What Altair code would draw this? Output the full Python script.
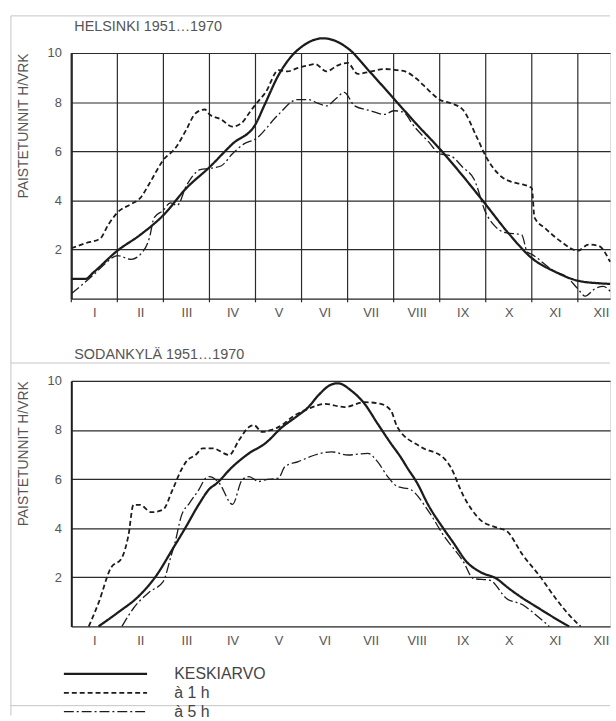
import altair as alt
import pandas as pd

FONT = "Liberation Sans"

ROMAN = ["I", "II", "III", "IV", "V", "VI", "VII", "VIII", "IX", "X", "XI", "XII"]
SERIES = ["KESKIARVO", "à 1 h", "à 5 h"]
TITLE_TOP = "HELSINKI 1951…1970"
TITLE_BOTTOM = "SODANKYLÄ 1951…1970"
Y_TITLE = "PAISTETUNNIT H/VRK"
Y_TICKS = [0, 2, 4, 6, 8, 10]
MONTH_EDGES = [0, 1, 2, 3, 4, 5, 6, 7, 8, 9, 10, 11]
MONTH_CENTERS = [0.5, 1.5, 2.5, 3.5, 4.5, 5.5, 6.5, 7.5, 8.5, 9.5, 10.5, 11.5]

# ---- Helsinki (month position, hours/day) ----
H_MEAN_M = [0, 0.3, 0.5, 1.0, 1.5, 2.0, 2.5, 3.0, 3.5, 4.0, 4.2, 4.5, 4.75, 5.0, 5.47,
            6.0, 6.5, 7.0, 7.5, 8.0, 8.5, 8.93, 9.5, 10.0, 10.5, 11.0, 11.5, 11.7]
H_MEAN_V = [0.8, 0.8, 1.1, 1.95, 2.6, 3.4, 4.5, 5.35, 6.3, 7.1, 7.9, 9.1, 9.8, 10.25, 10.6,
            10.2, 9.2, 8.15, 7.1, 6.1, 5.0, 4.0, 2.65, 1.65, 1.1, 0.73, 0.62, 0.6]

H_1H_M = [0, 0.3, 0.63, 0.8, 1.0, 1.3, 1.5, 1.7, 2.0, 2.27, 2.49, 2.7, 2.9, 3.0, 3.25,
          3.5, 3.7, 3.86, 4.0, 4.22, 4.5, 4.69, 4.93, 5.15, 5.3, 5.54, 5.79, 6.0, 6.22, 6.51,
          6.8, 7.08, 7.25, 7.5, 7.75, 8.0, 8.25, 8.5, 8.8, 9.0, 9.35, 9.57, 9.8, 10.0, 10.06,
          10.3, 10.65, 11.0, 11.23, 11.45, 11.7]
H_1H_V = [2.05, 2.25, 2.45, 3.0, 3.5, 3.85, 4.1, 4.7, 5.65, 6.15, 6.85, 7.55, 7.7, 7.5, 7.3,
          7.0, 7.15, 7.55, 7.9, 8.4, 9.3, 9.25, 9.4, 9.5, 9.55, 9.25, 9.5, 9.6, 9.15, 9.25,
          9.35, 9.3, 9.25, 8.95, 8.5, 8.1, 7.95, 7.7, 6.6, 5.8, 4.95, 4.75, 4.65, 4.5, 3.3,
          2.85, 2.3, 1.95, 2.2, 2.15, 1.5]

H_5H_M = [0, 0.5, 0.75, 1.0, 1.3, 1.5, 1.7, 1.8, 2.0, 2.15, 2.3, 2.5, 2.8, 3.0, 3.25,
          3.5, 3.75, 4.0, 4.5, 4.9, 5.15, 5.36, 5.54, 5.75, 5.93, 6.15, 6.5, 6.8, 7.0, 7.2,
          7.45, 7.75, 8.0, 8.25, 8.5, 8.75, 9.0, 9.2, 9.4, 9.78, 9.9, 10.0, 10.5, 10.75, 11.0,
          11.16, 11.37, 11.55, 11.7]
H_5H_V = [0.2, 1.0, 1.45, 1.75, 1.6, 1.8, 2.5, 3.3, 3.6, 3.9, 3.8, 4.6, 5.25, 5.3, 5.4,
          5.9, 6.3, 6.5, 7.5, 8.1, 8.1, 7.95, 7.85, 8.15, 8.4, 7.85, 7.65, 7.5, 7.65, 7.6,
          7.0, 6.4, 5.9, 5.8, 5.35, 4.85, 3.5, 2.95, 2.7, 2.6, 1.9, 1.8, 1.1, 0.9, 0.4,
          0.1, 0.4, 0.5, 0.3]

# ---- Sodankylä ----
S_MEAN_M = [0.59, 1.0, 1.49, 1.85, 2.2, 2.46, 2.78, 3.0, 3.14, 3.5, 3.86, 4.21, 4.57, 4.93, 5.15,
            5.36, 5.65, 5.79, 6.08, 6.37, 6.65, 6.94, 7.15, 7.3, 7.51, 7.75, 8.09, 8.3, 8.59, 8.9,
            9.23, 9.5, 9.81, 10.1, 10.4, 10.81]
S_MEAN_V = [0, 0.55, 1.28, 2.08, 3.15, 3.96, 5.0, 5.6, 5.8, 6.5, 7.05, 7.45, 8.1, 8.6, 8.93,
            9.4, 9.85, 9.9, 9.6, 9.06, 8.26, 7.45, 6.9, 6.45, 5.84, 4.95, 3.96, 3.4, 2.62, 2.2,
            1.95, 1.55, 1.14, 0.8, 0.45, 0]

S_1H_M = [0.38, 0.6, 0.85, 1.1, 1.24, 1.35, 1.49, 1.74, 1.99, 2.2, 2.39, 2.49, 2.71, 2.85, 3.07,
          3.43, 3.64, 3.86, 3.97, 4.14, 4.33, 4.57, 4.79, 5.15, 5.5, 5.94, 6.37, 6.72, 6.94, 7.08,
          7.58, 8.09, 8.23, 8.52, 8.87, 9.23, 9.45, 9.81, 10.16, 10.52, 10.81, 11.06]
S_1H_V = [0, 1.0, 2.35, 2.8, 3.7, 4.95, 4.95, 4.65, 4.75, 5.57, 6.38, 6.7, 7.0, 7.25, 7.25,
          6.98, 7.58, 8.12, 8.19, 7.92, 7.99, 8.19, 8.52, 8.86, 9.06, 8.93, 9.13, 9.06, 8.79, 8.12,
          7.32, 6.85, 6.51, 5.3, 4.36, 4.03, 3.89, 2.89, 2.08, 1.14, 0.47, 0]

S_5H_M = [1.1, 1.35, 1.7, 1.99, 2.17, 2.25, 2.39, 2.57, 2.78, 2.92, 3.0, 3.21, 3.5, 3.71, 3.86,
          4.07, 4.21, 4.5, 4.64, 4.93, 5.29, 5.65, 6.01, 6.44, 6.65, 6.87, 7.08, 7.37, 7.73, 8.09,
          8.52, 8.73, 9.09, 9.45, 9.81, 10.09, 10.38]
S_5H_V = [0, 0.74, 1.41, 1.81, 2.89, 3.4, 4.5, 5.03, 5.6, 6.04, 6.1, 5.84, 4.97, 5.97, 6.1,
          5.9, 5.97, 6.04, 6.51, 6.71, 6.98, 7.11, 6.98, 7.05, 6.71, 6.1, 5.7, 5.57, 4.77, 3.69,
          2.62, 1.95, 1.88, 1.14, 0.87, 0.47, 0]

# ---- layout ----
W, H = 544, 248
XMAX = 11.7
GAP = 83
INK = "#1c1c1c"
GRID = "#2b2b2b"
TXT = "#555555"
FRAME = "#c4c4c4"


def long_df(parts):
    rows = []
    for name, ms, vs in parts:
        assert len(ms) == len(vs), name
        for i, (m, v) in enumerate(zip(ms, vs)):
            rows.append({"serie": name, "m": m, "v": v, "o": i})
    return pd.DataFrame(rows)


x_scale = alt.Scale(domain=[0, XMAX], nice=False, zero=False)
y_scale = alt.Scale(domain=[0, 10], nice=False, zero=False)
label_expr = "[" + ",".join("'%s'" % r for r in ROMAN) + "][floor(datum.value)]"

x_axis = alt.Axis(values=MONTH_CENTERS, labelExpr=label_expr, title=None, grid=False,
                  ticks=False, domain=False, labelPadding=8, labelFont=FONT,
                  labelFontSize=13, labelColor=TXT, labelFlush=False)
y_axis = alt.Axis(values=Y_TICKS, labelExpr="datum.value == 0 ? '' : datum.label",
                  title=Y_TITLE, titleAnchor="end", titlePadding=17, titleFont=FONT,
                  titleFontSize=14, titleFontWeight="normal", titleColor=TXT,
                  grid=True, gridColor=GRID, gridWidth=1.2, ticks=False, domain=True,
                  domainColor=INK, domainWidth=2, labelPadding=10, labelFont=FONT,
                  labelFontSize=13, labelColor=TXT)

dash_scale = alt.Scale(domain=SERIES, range=[[1, 0], [5, 3], [10, 3, 2, 3]])
width_scale = alt.Scale(domain=SERIES, range=[2.3, 1.3, 1.3])


def make_legend():
    return alt.Legend(title=None, orient="none", legendX=-9, legendY=287,
                      symbolType="stroke", symbolSize=7056, symbolStrokeColor=INK,
                      clipHeight=18, rowPadding=1, labelOffset=26, padding=0,
                      labelFont=FONT, labelFontSize=16, labelColor="#444444",
                      labelBaseline="middle")


def panel(title, parts, legend, vgrid, frame):
    df = long_df(parts)
    leg_dash = make_legend() if legend else None
    leg_width = make_legend() if legend else None
    lines = alt.Chart(df).mark_line(color=INK, interpolate="monotone").encode(
        x=alt.X("m:Q", scale=x_scale, axis=x_axis),
        y=alt.Y("v:Q", scale=y_scale, axis=y_axis),
        strokeDash=alt.StrokeDash("serie:N", scale=dash_scale, legend=leg_dash),
        strokeWidth=alt.StrokeWidth("serie:N", scale=width_scale, legend=leg_width),
        detail="serie:N",
    )
    layers = []
    if vgrid:
        gdf = pd.DataFrame({"m": MONTH_EDGES, "lo": [-0.15] * len(MONTH_EDGES),
                            "hi": [10] * len(MONTH_EDGES)})
        layers.append(alt.Chart(gdf).mark_rule(color=GRID, strokeWidth=1.2).encode(
            x=alt.X("m:Q", scale=x_scale, axis=x_axis),
            y=alt.Y("lo:Q", scale=y_scale, axis=y_axis),
            y2="hi:Q",
        ))
    layers.append(lines)
    tdf = pd.DataFrame({"t": [title]})
    layers.append(alt.Chart(tdf).mark_text(align="left", baseline="middle", font=FONT,
                                           fontSize=14.5, color=TXT).encode(
        x=alt.value(3), y=alt.value(-26.5), text="t:N"))
    if frame:
        one = pd.DataFrame({"k": [0]})
        fr = alt.Chart(one).mark_rule(color=FRAME, strokeWidth=1)
        layers.append(fr.encode(x=alt.value(-61), x2=alt.value(W), y=alt.value(-37.5)))
        layers.append(fr.encode(x=alt.value(-61), y=alt.value(-37.5), y2=alt.value(669)))
        layers.append(fr.encode(x=alt.value(-61), x2=alt.value(W), y=alt.value(313)))
        layers.append(fr.encode(x=alt.value(-61), x2=alt.value(W), y=alt.value(659)))
    return alt.layer(*layers).properties(width=W, height=H)


top = panel(TITLE_TOP, [(SERIES[0], H_MEAN_M, H_MEAN_V), (SERIES[1], H_1H_M, H_1H_V),
                        (SERIES[2], H_5H_M, H_5H_V)], legend=False, vgrid=True, frame=True)
bottom = panel(TITLE_BOTTOM, [(SERIES[0], S_MEAN_M, S_MEAN_V), (SERIES[1], S_1H_M, S_1H_V),
                              (SERIES[2], S_5H_M, S_5H_V)], legend=True, vgrid=False, frame=False)

chart = alt.vconcat(top, bottom, spacing=GAP, bounds="flush").resolve_scale(
    strokeDash="independent", strokeWidth="independent"
).properties(
    padding={"left": 10, "top": 11, "right": 0, "bottom": 0},
    autosize=alt.AutoSizeParams(type="pad"),
).configure_view(stroke=None).configure(background="white")

chart.save("out.html", embed_options={"renderer": "svg", "actions": False})
